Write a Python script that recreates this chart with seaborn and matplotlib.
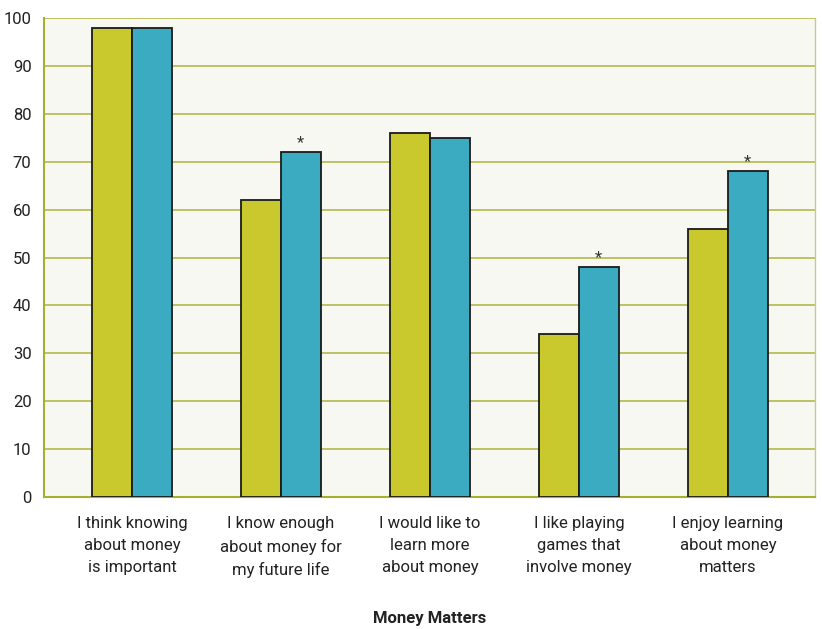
import matplotlib
matplotlib.use("Agg")
import matplotlib.pyplot as plt
import seaborn as sns
import pandas as pd

categories = [
    "I think knowing\nabout money\nis important",
    "I know enough\nabout money for\nmy future life",
    "I would like to\nlearn more\nabout money",
    "I like playing\ngames that\ninvolve money",
    "I enjoy learning\nabout money\nmatters",
]
series_a = [98, 62, 76, 34, 56]
series_b = [98, 72, 75, 48, 68]
starred_b = [False, True, False, True, True]
y_ticks = [0, 10, 20, 30, 40, 50, 60, 70, 80, 90, 100]
x_title = "Money Matters"

sns.set_style("white")
plt.rcParams["font.family"] = ["Roboto", "DejaVu Sans"]

df = pd.DataFrame({
    "cat": categories * 2,
    "val": series_a + series_b,
    "grp": ["A"] * len(categories) + ["B"] * len(categories),
})

fig = plt.figure(figsize=(8.22, 6.29), dpi=100)
ax = fig.add_axes([44 / 822, 1 - 497 / 629, 771 / 822, 479 / 629])
ax.set_facecolor("#f8f8f2")

sns.barplot(data=df, x="cat", y="val", hue="grp", order=categories,
            palette={"A": "#c9c92e", "B": "#3aabc0"}, width=0.537,
            saturation=1, edgecolor="#1a1a1a", linewidth=1.3, ax=ax,
            legend=False, errorbar=None, zorder=3)

for i, (v, s) in enumerate(zip(series_b, starred_b)):
    if s:
        ax.text(i + 0.134, v + 0.4, "*", ha="center", va="bottom",
                fontsize=12, color="#333333", zorder=4)

ax.set_ylim(0, 100)
ax.set_xlim(-0.59, 4.585)
ax.set_yticks(y_ticks)
ax.yaxis.grid(True, color="#b5b84a", linewidth=1.2, zorder=0)
ax.set_axisbelow(True)
ax.spines["top"].set_visible(False)
ax.spines["right"].set_visible(True)
ax.spines["right"].set_color("#c8cc80")
ax.spines["right"].set_linewidth(1.0)
for side in ["left", "bottom"]:
    ax.spines[side].set_color("#a8ae30")
    ax.spines[side].set_linewidth(1.5)
ax.tick_params(axis="y", length=0, pad=9, labelsize=12, labelcolor="#222222")
ax.tick_params(axis="x", length=0, pad=14, labelsize=12, labelcolor="#222222")
for lbl in ax.get_xticklabels():
    lbl.set_linespacing(1.55)
ax.set_ylabel("")
ax.set_xlabel("")
fig.text(ax.get_position().x0 + ax.get_position().width / 2, 1 - 619 / 629,
         x_title, ha="center", va="center", fontsize=12, fontweight="bold",
         color="#222222")

fig.savefig("out.png", dpi=100)
